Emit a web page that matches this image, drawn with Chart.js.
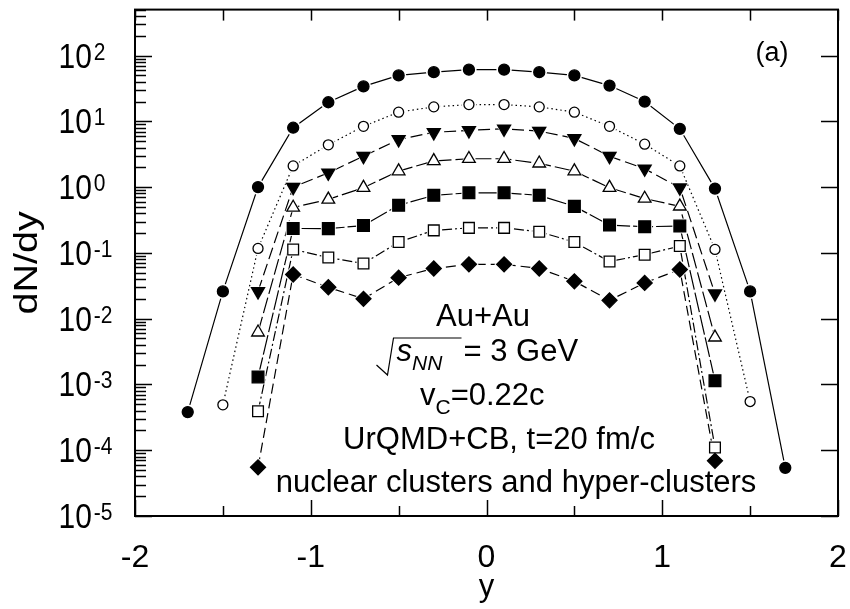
<!DOCTYPE html>
<html><head><meta charset="utf-8">
<script src="https://cdn.jsdelivr.net/npm/chart.js@4/dist/chart.umd.min.js"></script>
<style>html,body{margin:0;padding:0;background:#fff}#wrap{width:850px;height:609px;position:relative}</style>
</head><body><div id="wrap"><canvas id="c" width="850" height="609"></canvas></div>
<script>
// rapidity positions
const yOuter = [-1.7,-1.5,-1.3,-1.1,-0.9,-0.7,-0.5,-0.3,-0.1,0.1,0.3,0.5,0.7,0.9,1.1,1.3,1.5,1.7];
const yMid   = [-1.5,-1.3,-1.1,-0.9,-0.7,-0.5,-0.3,-0.1,0.1,0.3,0.5,0.7,0.9,1.1,1.3,1.5];
const yInner = [-1.3,-1.1,-0.9,-0.7,-0.5,-0.3,-0.1,0.1,0.3,0.5,0.7,0.9,1.1,1.3];

// dN/dy values, one array per series
const filledCircle = [3.8e-4,0.026,1.0,8.0,19.5,34,50,56,61,61,56,50,35,20,7.7,0.95,0.026,5.4e-5];
const openCircle   = [4.9e-4,0.117,2.1,4.4,8.4,13.8,16.6,18,18,16.6,13.8,8.4,4.5,2.1,0.113,5.5e-4];
const downTriangle = [0.026,1.0,1.65,2.95,5.3,6.8,7.3,7.7,7.1,5.5,2.95,1.9,0.98,0.024];
const upTriangle   = [0.0062,0.49,0.65,0.98,1.75,2.5,2.7,2.7,2.3,1.75,0.98,0.67,0.51,0.0052];
const filledSquare = [0.0013,0.235,0.234,0.26,0.53,0.75,0.82,0.82,0.75,0.51,0.265,0.25,0.256,0.00114];
const openSquare   = [3.9e-4,0.113,0.085,0.069,0.146,0.22,0.24,0.24,0.21,0.146,0.074,0.094,0.127,1.1e-4];
const filledDiamond= [5.5e-5,0.047,0.030,0.020,0.042,0.058,0.067,0.067,0.058,0.037,0.019,0.035,0.056,6.9e-5];

// axis ticks
const xTickValues = [-2,-1,0,1,2];
const xMinorTicks = [-1.5,-0.5,0.5,1.5];
const yDecadeExp = [-5,-4,-3,-2,-1,0,1,2];

const pts = (xs, vs) => xs.map((x,i)=>({x:x, y:vs[i]}));

function ds(xs, vs, style, fill, r, dash, rot) {
  return {
    data: pts(xs, vs), showLine: true, tension: 0,
    borderColor: '#000', borderWidth: 1.2, borderDash: dash,
    pointStyle: style, pointRadius: r, pointRotation: rot || 0,
    pointBackgroundColor: fill ? '#000' : '#fff', pointBorderColor: '#000', pointBorderWidth: 1.3,
    pointHoverRadius: r
  };
}

const FONT = '"Liberation Sans", Arial, sans-serif';

// white gap around each marker, then markers redrawn on top
const haloPlugin = {
  id: 'halo',
  afterDatasetsDraw(chart) {
    const ctx = chart.ctx;
    ctx.save();
    ctx.fillStyle = '#fff';
    chart.data.datasets.forEach((d, i) => {
      const meta = chart.getDatasetMeta(i);
      meta.data.forEach(pt => {
        Chart.helpers.drawPoint(ctx, {pointStyle: d.pointStyle, rotation: d.pointRotation, radius: d.pointRadius + 2.2, borderWidth: 0}, pt.x, pt.y);
      });
    });
    ctx.restore();
    chart.data.datasets.forEach((d, i) => {
      const meta = chart.getDatasetMeta(i);
      meta.data.forEach(pt => pt.draw(ctx, chart.chartArea));
    });
  }
};

const axesPlugin = {
  id: 'axes',
  afterDraw(chart) {
    const ctx = chart.ctx, X = chart.scales.x, Y = chart.scales.y, a = chart.chartArea;
    ctx.save();
    ctx.strokeStyle = '#000'; ctx.fillStyle = '#000';
    const seg = (x1,y1,x2,y2)=>{ctx.beginPath();ctx.moveTo(x1,y1);ctx.lineTo(x2,y2);ctx.stroke();};
    ctx.lineWidth = 1.5;
    for (const e of yDecadeExp) {
      for (let m = 1; m <= 9; m++) {
        const v = m * Math.pow(10, e);
        if (v > Y.max * 1.0001) continue;
        const py = Math.round(Y.getPixelForValue(v)) + 0.5;
        seg(a.left, py, a.left + (m === 1 ? 17 : 11), py);
        if (m === 1) seg(a.right, py, a.right - 17, py);
      }
    }
    for (const v of xTickValues) { const px = Math.round(X.getPixelForValue(v)) + 0.5; seg(px, a.bottom, px, a.bottom - 16); }
    for (const v of xMinorTicks) { const px = Math.round(X.getPixelForValue(v)) + 0.5; seg(px, a.bottom, px, a.bottom - 10); }
    for (const v of xTickValues.concat(xMinorTicks)) { const px = Math.round(X.getPixelForValue(v)) + 0.5; seg(px, a.top, px, a.top + 11); }
    ctx.lineWidth = 2;
    ctx.strokeRect(a.left, a.top, a.right - a.left, a.bottom - a.top);

    // y tick labels 10^n (glyphs slightly tall, as in the reference)
    ctx.textAlign = 'left'; ctx.textBaseline = 'alphabetic';
    for (const e of yDecadeExp) {
      const py = Y.getPixelForValue(Math.pow(10, e));
      ctx.save();
      ctx.translate(58.5, py + 12);
      ctx.scale(1, 1.15);
      ctx.font = '30px ' + FONT;
      ctx.fillText('10', 0, 0);
      const w = ctx.measureText('10').width;
      ctx.font = '21px ' + FONT;
      ctx.fillText(String(e), w + 2, -7);
      ctx.restore();
    }
    // x tick labels
    ctx.textAlign = 'center';
    ctx.font = '32px ' + FONT;
    for (const v of xTickValues) ctx.fillText(String(v), X.getPixelForValue(v), 566.5);
    // axis titles
    ctx.font = '31px ' + FONT;
    ctx.fillText('y', X.getPixelForValue(0), 596);
    ctx.save();
    ctx.translate(28, (a.top + a.bottom) / 2);
    ctx.rotate(-Math.PI / 2);
    ctx.scale(1.2, 1);
    ctx.font = '33px ' + FONT;
    ctx.textBaseline = 'middle';
    ctx.fillText('dN/dy', 0, 0);
    ctx.restore();

    // panel label
    ctx.font = '27px ' + FONT;
    ctx.fillText('(a)', 772, 61);

    // annotation block
    ctx.font = '31px ' + FONT;
    ctx.fillText('Au+Au', 483, 326);
    ctx.textAlign = 'left';
    ctx.lineWidth = 1.2;
    ctx.beginPath();
    ctx.moveTo(376.5, 365); ctx.lineTo(387.5, 375); ctx.lineTo(393.5, 338); ctx.lineTo(461.5, 338);
    ctx.stroke();
    ctx.font = 'italic 31px ' + FONT;
    ctx.fillText('s', 396.5, 361);
    let xx = 396.5 + ctx.measureText('s').width;
    ctx.font = 'italic 21px ' + FONT;
    ctx.fillText('NN', xx, 370);
    ctx.font = '31px ' + FONT;
    ctx.fillText('= 3 GeV', 463.5, 361);
    ctx.fillText('v', 420, 405);
    xx = 420 + ctx.measureText('v').width;
    ctx.font = '21px ' + FONT;
    ctx.fillText('C', xx, 414);
    xx += ctx.measureText('C').width;
    ctx.font = '31px ' + FONT;
    ctx.fillText('=0.22c', xx, 405);
    ctx.textAlign = 'center';
    ctx.fillText('UrQMD+CB, t=20 fm/c', 499, 449);
    ctx.fillText('nuclear clusters and hyper-clusters', 516, 492);
    ctx.restore();
  }
};

new Chart(document.getElementById('c'), {
  type: 'line',
  data: {
    datasets: [
      ds(yOuter, filledCircle, 'circle', true, 5.5, []),
      ds(yMid, openCircle, 'circle', false, 5, [1.5, 3]),
      ds(yInner, downTriangle, 'triangle', true, 7.5, [12, 5], 180),
      ds(yInner, upTriangle, 'triangle', false, 7.3, [16, 4]),
      ds(yInner, filledSquare, 'rect', true, 8.3, [20, 3]),
      ds(yInner, openSquare, 'rect', false, 7.6, [10, 3, 2, 3]),
      ds(yInner, filledDiamond, 'rectRot', true, 7.5, [10, 5])
    ]
  },
  options: {
    responsive: false, animation: false, events: [],
    layout: { padding: { left: 135, right: 12, top: 9, bottom: 93 } },
    plugins: { legend: { display: false }, tooltip: { enabled: false } },
    scales: {
      x: { type: 'linear', min: -2, max: 2, display: false },
      y: { type: 'logarithmic', min: 1e-5, max: 500, display: false }
    }
  },
  plugins: [haloPlugin, axesPlugin]
});
</script>
</body></html>
